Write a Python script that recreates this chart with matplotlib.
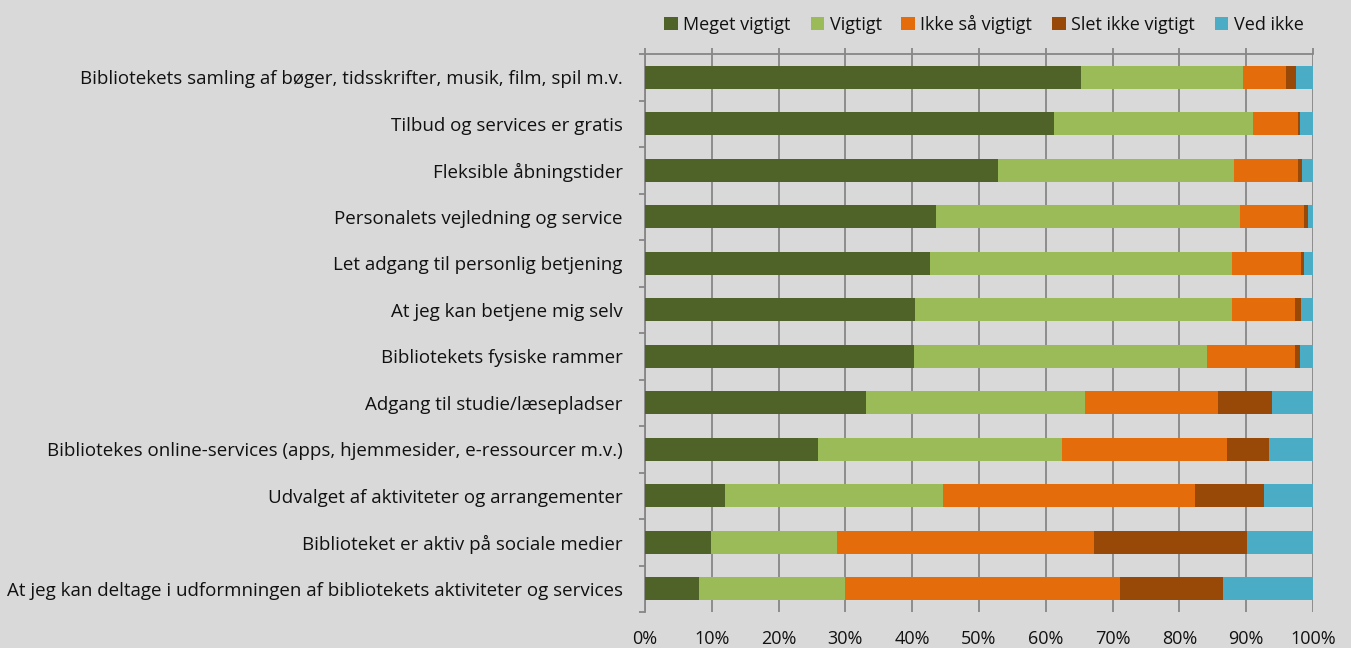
import matplotlib.pyplot as plt
import numpy as np

plt.rcParams['font.family'] = ['Open Sans', 'DejaVu Sans']

categories = [
    "Bibliotekets samling af bøger, tidsskrifter, musik, film, spil m.v.",
    "Tilbud og services er gratis",
    "Fleksible åbningstider",
    "Personalets vejledning og service",
    "Let adgang til personlig betjening",
    "At jeg kan betjene mig selv",
    "Bibliotekets fysiske rammer",
    "Adgang til studie/læsepladser",
    "Bibliotekes online-services (apps, hjemmesider, e-ressourcer m.v.)",
    "Udvalget af aktiviteter og arrangementer",
    "Biblioteket er aktiv på sociale medier",
    "At jeg kan deltage i udformningen af bibliotekets aktiviteter og services",
]

series_names = ["Meget vigtigt", "Vigtigt", "Ikke så vigtigt", "Slet ikke vigtigt", "Ved ikke"]

meget_vigtigt = [65.3, 61.3, 52.8, 43.6, 42.7, 40.4, 40.3, 33.1, 25.9, 12.0, 9.9, 8.1]
vigtigt = [24.2, 29.7, 35.4, 45.5, 45.1, 47.5, 43.8, 32.7, 36.5, 32.6, 18.8, 21.9]
ikke_saa_vigtigt = [6.5, 6.7, 9.6, 9.6, 10.4, 9.4, 13.2, 20.0, 24.7, 37.7, 38.5, 41.1]
slet_ikke_vigtigt = [1.4, 0.4, 0.6, 0.5, 0.5, 0.9, 0.8, 8.0, 6.3, 10.4, 22.9, 15.5]
ved_ikke = [2.6, 1.9, 1.6, 0.8, 1.3, 1.8, 1.9, 6.2, 6.6, 7.3, 9.9, 13.4]

colors = ["#4F6228", "#9BBB59", "#E46C0A", "#984807", "#4BACC6"]
bg = "#D9D9D9"
grid_col = "#878787"

fig = plt.figure(figsize=(13.51, 6.48), dpi=100, facecolor=bg)
ax = fig.add_axes([645 / 1351, 1 - 612 / 648, 668 / 1351, 558 / 648])
ax.set_facecolor(bg)

y = np.arange(len(categories))
left = np.zeros(len(categories))
for name, vals, c in zip(series_names,
                         [meget_vigtigt, vigtigt, ikke_saa_vigtigt, slet_ikke_vigtigt, ved_ikke],
                         colors):
    vals = np.array(vals)
    ax.barh(y, vals, left=left, height=0.5, color=c, label=name, zorder=3)
    left += vals

ax.set_xlim(0, 100)
ax.set_ylim(len(categories) - 0.5, -0.5)

ax.set_xticks(np.arange(0, 101, 10))
ax.set_xticklabels([f"{v}%" for v in range(0, 101, 10)])
ax.xaxis.grid(True, color=grid_col, linewidth=1.3, zorder=0)
ax.tick_params(axis='x', top=True, bottom=False, labeltop=False, labelbottom=True,
               direction='out', length=4, color=grid_col, width=1.3,
               labelsize=13, pad=9, labelcolor="#111111")

ax.set_yticks(y)
ax.set_yticklabels(categories)
ax.set_yticks(np.arange(-0.5, len(categories), 1), minor=True)
ax.tick_params(axis='y', which='major', length=0, pad=16, labelsize=13.5, labelcolor="#111111")
ax.tick_params(axis='y', which='minor', length=4, color=grid_col, width=1.3)

for s in ['right', 'bottom']:
    ax.spines[s].set_visible(False)
for s in ['left', 'top']:
    ax.spines[s].set_color(grid_col)
    ax.spines[s].set_linewidth(1.3)

leg = fig.legend(loc='center', bbox_to_anchor=(984 / 1351, 1 - 24 / 648), ncol=5,
                 frameon=False, fontsize=13, handlelength=0.75, handleheight=0.75,
                 handletextpad=0.3, columnspacing=1.1, labelcolor="#111111")

fig.savefig("out.png", dpi=100, facecolor=bg)
